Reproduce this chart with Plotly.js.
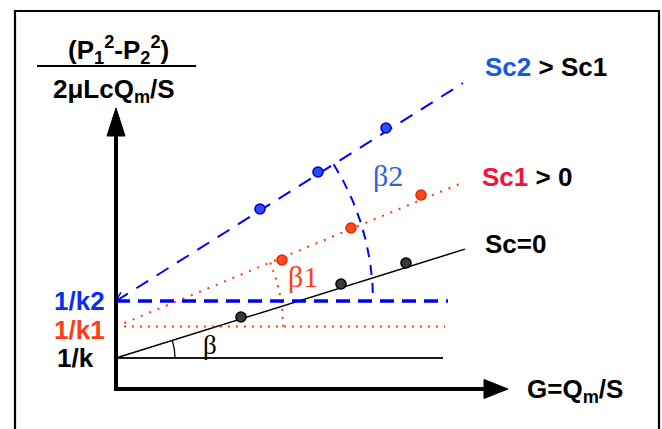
<!DOCTYPE html>
<html><head><meta charset="utf-8">
<script src="https://cdn.plot.ly/plotly-3.0.1.min.js"></script>
<style>html,body{margin:0;padding:0;background:#fff}#chart{width:662px;height:429px}</style>
</head><body><div id="chart"></div>
<script>
// Klinkenberg-type plot: reduced pressure term vs. mass flux G = Qm/S
// for three slip conditions. Intercept = 1/k, slope angle = β.

const seriesNames = ['Sc=0', 'Sc1 > 0', 'Sc2 > Sc1'];
const intercepts  = [3.1, 6.25, 8.8];        // 1/k, 1/k1, 1/k2
const slopes      = [0.312, 0.415, 0.628];   // tan β, tan β1, tan β2
const lineEndG    = [34.9, 34.6, 34.7];      // extent of each fitted line
const refEndG     = [32.7, 32.9, 33.2];      // extent of the horizontal 1/k lines
const pointsG = [[12.5, 22.5, 29.0], [16.6, 23.5, 30.5], [14.4, 20.2, 27.0]];
const pointsY = [[7.2, 10.5, 12.6], [12.9, 16.1, 19.4], [18.0, 21.7, 26.1]];
const interceptLabels = ['1/k', '1/k1', '1/k2'];
const angleLabels = ['β', 'β1', 'β2'];

// ---- styling ----
const fitStyle = [
  {color: '#000000', width: 1.5, dash: 'solid'},
  {color: '#ff3a10', width: 2, dash: '2px,7px'},
  {color: '#0000ff', width: 2, dash: '14px,10px'}
];
const refStyle = [
  {color: '#1a1a1a', width: 2, dash: 'solid'},
  {color: '#ff3a10', width: 2, dash: '2px,6px'},
  {color: '#0000ff', width: 3.5, dash: '14px,8px'}
];
const arcStyle = [
  {color: '#000000', width: 1.3, dash: 'solid'},
  {color: '#ff3a10', width: 2, dash: '2px,6px'},
  {color: '#0000ff', width: 2, dash: '10px,8px'}
];
const arcRadius = [5.9, 16.7, 25.7];
const markerFill = ['#3a3a3a', '#ff4a20', '#2a4cff'];
const markerEdge = ['#000000', '#e02a00', '#0000d0'];
const labelColor = ['#000000', '#ff3c14', '#0a2ef0'];
const angleColor = ['#000000', '#ff3c14', '#2a62e0'];
const angleLabelPos = [[9.4, 4.4], [18.7, 11.3], [27.2, 21.4]];
const angleLabelSize = [27, 30, 30];
const interceptLabelX = [-2.0, -0.9, -0.9];
const interceptLabelDy = [0, -0.3, 0];
const seriesLabelPos = [[36.7, 14.5], [36.4, 21.2], [36.7, 32.2]];

const SANS = 'Liberation Sans, Arial, sans-serif';
const SERIF = 'Liberation Serif, Times New Roman, serif';

function arcPoints(cx, cy, r, a0, a1, n) {
  const xs = [], ys = [];
  for (let i = 0; i <= n; i++) {
    const a = a0 + (a1 - a0) * i / n;
    xs.push(cx + r * Math.cos(a));
    ys.push(cy + r * Math.sin(a));
  }
  return {x: xs, y: ys};
}

const traces = [];
const annotations = [];
const shapes = [];

for (let s = 0; s < 3; s++) {
  const b = intercepts[s], m = slopes[s];
  // horizontal reference at the intercept
  traces.push({x: [0, refEndG[s]], y: [b, b], mode: 'lines',
    line: refStyle[s], hoverinfo: 'skip'});
  // fitted line
  traces.push({x: [0, lineEndG[s]], y: [b, b + m * lineEndG[s]], mode: 'lines',
    line: fitStyle[s], hoverinfo: 'skip'});
  // angle arc between the reference and the fitted line
  const arc = arcPoints(0, b, arcRadius[s], Math.atan(m), 0, 40);
  traces.push({x: arc.x, y: arc.y, mode: 'lines', line: arcStyle[s], hoverinfo: 'skip'});
  // measured points
  traces.push({x: pointsG[s], y: pointsY[s], mode: 'markers', name: seriesNames[s],
    marker: {size: 10, color: markerFill[s], line: {color: markerEdge[s], width: 1.6}}});

  annotations.push({x: interceptLabelX[s], y: b + interceptLabelDy[s], xanchor: 'right', yanchor: 'middle',
    text: interceptLabels[s], showarrow: false,
    font: {family: SANS, size: 26, weight: 'bold', color: labelColor[s]}});
  annotations.push({x: angleLabelPos[s][0], y: angleLabelPos[s][1], xanchor: 'center', yanchor: 'middle',
    text: angleLabels[s], showarrow: false,
    font: {family: SERIF, size: angleLabelSize[s], color: angleColor[s]}});
}

// small open arrowhead where the Sc2 line meets the vertical axis
(function () {
  const b = intercepts[2], a = Math.atan(slopes[2]), L = 1.0, w = 0.5;
  const xs = [L * Math.cos(a + w), 0, L * Math.cos(a - w)];
  const ys = [b + L * Math.sin(a + w), b, b + L * Math.sin(a - w)];
  traces.push({x: xs, y: ys, mode: 'lines', line: {color: '#0000ff', width: 1.5}, hoverinfo: 'skip'});
})();

// series labels on the right
annotations.push({x: seriesLabelPos[2][0], y: seriesLabelPos[2][1], xanchor: 'left', yanchor: 'middle',
  showarrow: false, text: '<span style="color:#1a56e8">Sc2</span> &gt; Sc1',
  font: {family: SANS, size: 26, weight: 'bold', color: '#000'}});
annotations.push({x: seriesLabelPos[1][0], y: seriesLabelPos[1][1], xanchor: 'left', yanchor: 'middle',
  showarrow: false, text: '<span style="color:#f0143c">Sc1</span> &gt; 0',
  font: {family: SANS, size: 26, weight: 'bold', color: '#000'}});
annotations.push({x: seriesLabelPos[0][0], y: seriesLabelPos[0][1], xanchor: 'left', yanchor: 'middle',
  showarrow: false, text: 'Sc=0',
  font: {family: SANS, size: 26, weight: 'bold', color: '#000'}});

// axis titles
annotations.push({x: 40.9, y: -0.1, xanchor: 'left', yanchor: 'middle', showarrow: false,
  text: 'G=Q<sub>m</sub>/S', font: {family: SANS, size: 26, weight: 'bold', color: '#000'}});
annotations.push({x: 0.2, y: 33.9, xanchor: 'center', yanchor: 'middle', showarrow: false,
  text: '(P<sub>1</sub><sup>2</sup>-P<sub>2</sub><sup>2</sup>)',
  font: {family: SANS, size: 26, weight: 'bold', color: '#000'}});
annotations.push({x: -0.2, y: 29.9, xanchor: 'center', yanchor: 'middle', showarrow: false,
  text: '2μLcQ<sub>m</sub>/S',
  font: {family: SANS, size: 26, weight: 'bold', color: '#000'}});

// fraction bar of the y title
shapes.push({type: 'line', xref: 'x', yref: 'y', x0: -7.9, x1: 8.0, y0: 32.3, y1: 32.3,
  line: {color: '#000', width: 2}});
// axes with arrowheads
shapes.push({type: 'line', xref: 'x', yref: 'y', x0: 0, x1: 0, y0: -0.2, y1: 25.8,
  line: {color: '#000', width: 4}});
shapes.push({type: 'path', xref: 'x', yref: 'y', path: 'M -0.9 25.3 L 0 28.1 L 0.9 25.3 Z',
  fillcolor: '#000', line: {color: '#000', width: 1}});
shapes.push({type: 'line', xref: 'x', yref: 'y', x0: -0.2, x1: 37.0, y0: 0, y1: 0,
  line: {color: '#000', width: 4}});
shapes.push({type: 'path', xref: 'x', yref: 'y', path: 'M 36.8 0.95 L 39.2 0 L 36.8 -0.95 Z',
  fillcolor: '#000', line: {color: '#000', width: 1}});
// outer frame
shapes.push({type: 'rect', xref: 'paper', yref: 'paper',
  x0: 15 / 662, x1: 659 / 662, y0: -0.1, y1: 1 - 11 / 429,
  line: {color: '#000', width: 2.2}, fillcolor: 'rgba(0,0,0,0)'});

const layout = {
  width: 662, height: 429,
  margin: {l: 0, r: 0, t: 0, b: 0},
  paper_bgcolor: '#fff', plot_bgcolor: '#fff',
  showlegend: false,
  xaxis: {range: [-11.6, 54.6], visible: false, fixedrange: true},
  yaxis: {range: [-4.0, 38.9], visible: false, fixedrange: true},
  annotations: annotations,
  shapes: shapes
};

Plotly.newPlot('chart', traces, layout, {staticPlot: true, displayModeBar: false});
</script>
</body></html>
